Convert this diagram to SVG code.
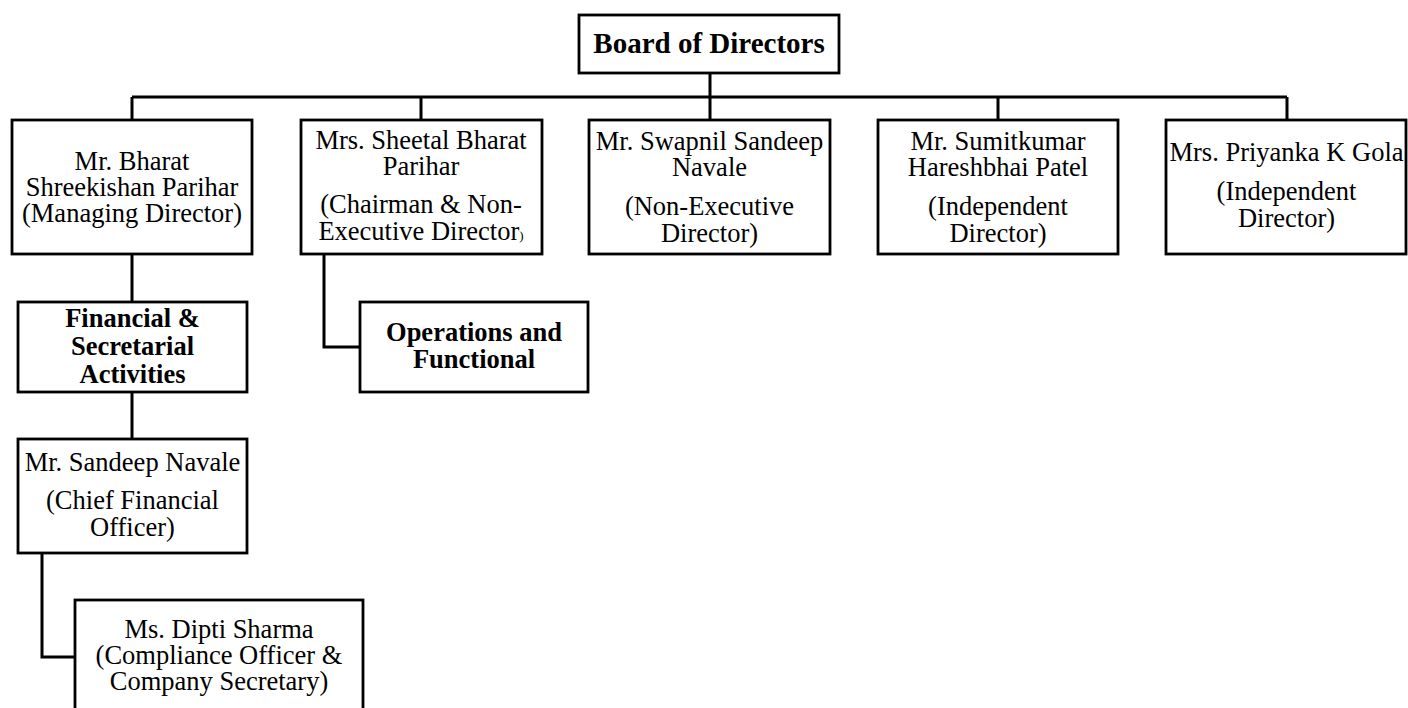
<svg xmlns="http://www.w3.org/2000/svg" width="1408" height="708" viewBox="0 0 1408 708">
<style>
.box{fill:#fff;stroke:#000;stroke-width:2.8}
.t{font-family:"Liberation Serif","Times New Roman",serif;font-size:26.5px;fill:#000;text-anchor:middle}
.b{font-family:"Liberation Serif","Times New Roman",serif;font-size:26.5px;font-weight:bold;fill:#000;text-anchor:middle}
.ln{fill:none;stroke:#000;stroke-width:3}
</style>
<rect width="1408" height="708" fill="#fff"/>
<g id="connectors">
<path class="ln" d="M710 73 V120"/>
<path class="ln" d="M132 97 H1287"/>
<path class="ln" d="M132 97 V120 M421 97 V120 M998 97 V120 M1287 97 V120"/>
<path class="ln" d="M132 254 V302 M132 392 V439"/>
<path class="ln" d="M324 254 V347 H360"/>
<path class="ln" d="M42 553 V657 H75"/>
</g>
<g id="board">
<rect class="box" x="579" y="15" width="260" height="58"/>
<text class="b" x="709" y="53" style="font-size:29px">Board of Directors</text>
</g>
<g id="bharat">
<rect class="box" x="12" y="120" width="240" height="134"/>
<text class="t" x="132" y="170">Mr. Bharat</text>
<text class="t" x="132" y="196">Shreekishan Parihar</text>
<text class="t" x="132" y="222">(Managing Director)</text>
</g>
<g id="sheetal">
<rect class="box" x="301" y="120" width="241" height="134"/>
<text class="t" x="421" y="149">Mrs. Sheetal Bharat</text>
<text class="t" x="421" y="175">Parihar</text>
<text class="t" x="421" y="213">(Chairman &amp; Non-</text>
<text class="t" x="421" y="240">Executive Director<tspan style="font-size:13px">)</tspan></text>
</g>
<g id="swapnil">
<rect class="box" x="589" y="120" width="241" height="134"/>
<text class="t" x="709.5" y="150">Mr. Swapnil Sandeep</text>
<text class="t" x="709.5" y="176">Navale</text>
<text class="t" x="709.5" y="215">(Non-Executive</text>
<text class="t" x="709.5" y="242">Director)</text>
</g>
<g id="sumitkumar">
<rect class="box" x="878" y="120" width="240" height="134"/>
<text class="t" x="998" y="150">Mr. Sumitkumar</text>
<text class="t" x="998" y="176">Hareshbhai Patel</text>
<text class="t" x="998" y="215">(Independent</text>
<text class="t" x="998" y="242">Director)</text>
</g>
<g id="priyanka">
<rect class="box" x="1166" y="120" width="240" height="134"/>
<text class="t" x="1286.5" y="161">Mrs. Priyanka K Gola</text>
<text class="t" x="1286.5" y="200">(Independent</text>
<text class="t" x="1286.5" y="227">Director)</text>
</g>
<g id="financial">
<rect class="box" x="18" y="302" width="229" height="90"/>
<text class="b" x="132.5" y="327">Financial &amp;</text>
<text class="b" x="132.5" y="355">Secretarial</text>
<text class="b" x="132.5" y="383">Activities</text>
</g>
<g id="operations">
<rect class="box" x="360" y="302" width="228" height="90"/>
<text class="b" x="474" y="341">Operations and</text>
<text class="b" x="474" y="368">Functional</text>
</g>
<g id="sandeep">
<rect class="box" x="18" y="439" width="229" height="114"/>
<text class="t" x="132.5" y="471">Mr. Sandeep Navale</text>
<text class="t" x="132.5" y="509">(Chief Financial</text>
<text class="t" x="132.5" y="536">Officer)</text>
</g>
<g id="dipti">
<rect class="box" x="75" y="600" width="288" height="130"/>
<text class="t" x="219" y="638">Ms. Dipti Sharma</text>
<text class="t" x="219" y="664">(Compliance Officer &amp;</text>
<text class="t" x="219" y="690">Company Secretary)</text>
</g>
</svg>
